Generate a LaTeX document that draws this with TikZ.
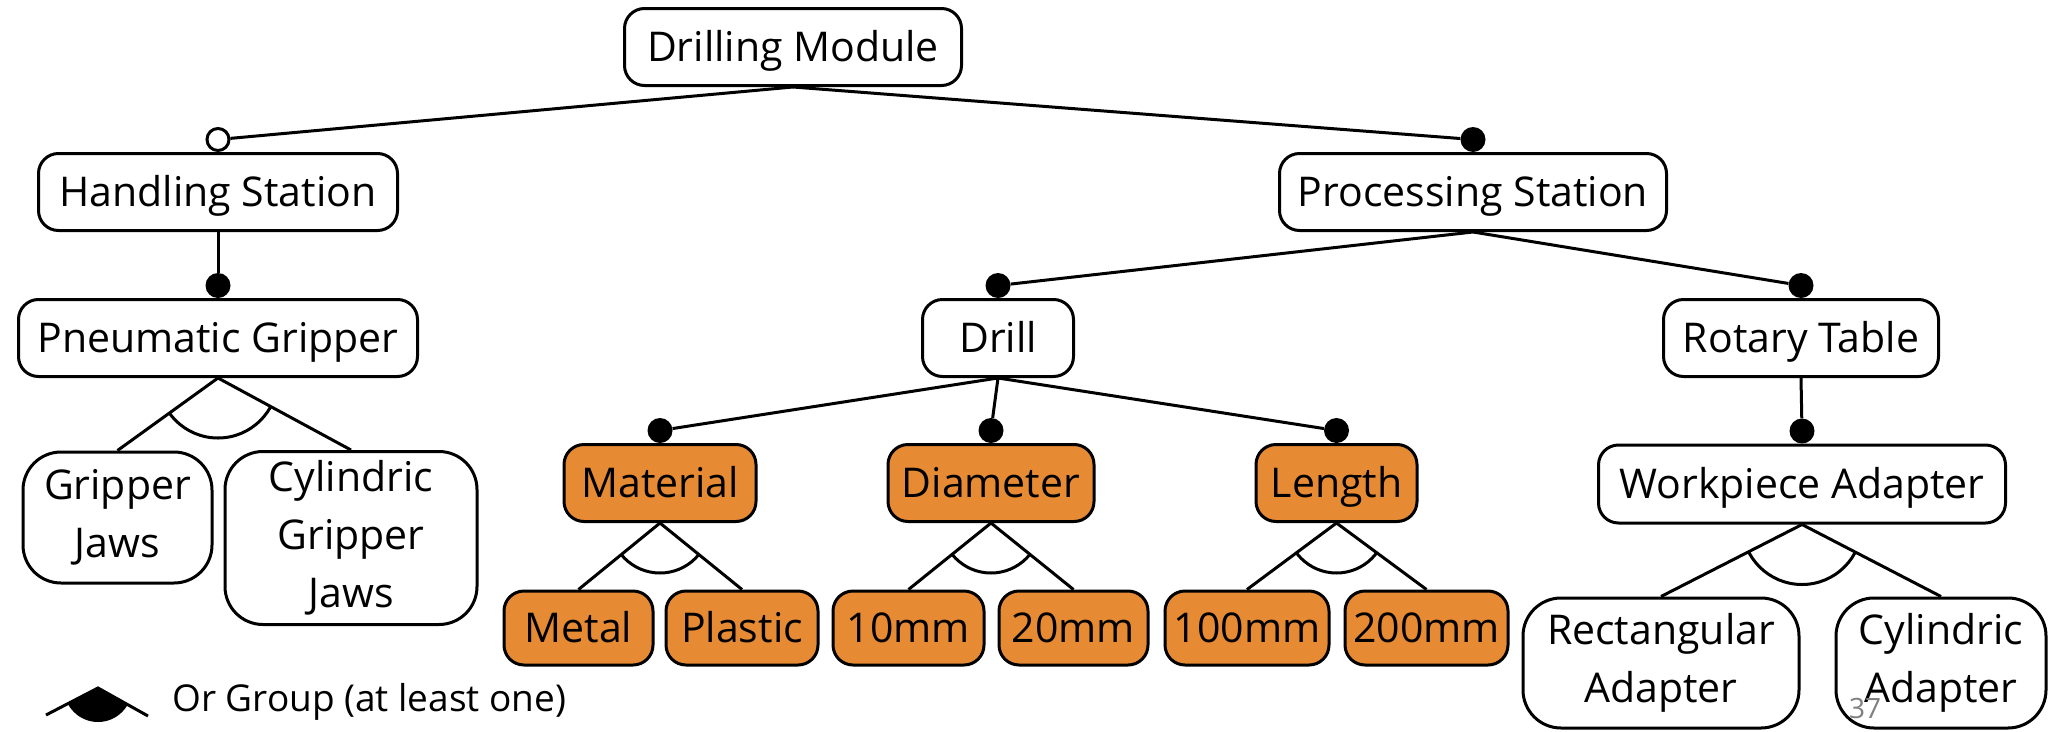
\documentclass[tikz,border=0pt]{standalone}
\usepackage{fontspec}
\setmainfont{Open Sans}
\usetikzlibrary{calc}
\definecolor{orangeF}{RGB}{230,138,52}
\begin{document}
\begin{tikzpicture}[x=1pt,y=-1pt,
  feat/.style={draw, line width=3pt, rounded corners=20pt, inner sep=0pt, minimum height=77pt, font=\fontsize{41}{58}\selectfont, align=center, fill=white},
  one/.style={text height=29pt, text depth=0pt},
  multi/.style={rounded corners=38pt},
  sel/.style={fill=orangeF},
  mand/.style={circle, fill=black, inner sep=0pt, minimum size=25pt},
  opt/.style={circle, draw, fill=white, line width=3pt, inner sep=0pt, minimum size=22pt},
  edge/.style={line width=3pt},
]
\useasboundingbox (0,0) rectangle (2048,731);

% feature nodes
\node[feat, one, minimum width=337pt] (DM) at (793,47) {Drilling Module};
\node[feat, one, minimum width=359pt] (HS) at (218,192) {Handling Station};
\node[feat, one, minimum width=387pt] (PS) at (1473,192) {Processing Station};
\node[feat, one, minimum width=399pt] (PG) at (218,338) {Pneumatic Gripper};
\node[feat, one, minimum width=151pt] (DR) at (998,338) {Drill};
\node[feat, one, minimum width=275pt] (RT) at (1801,338) {Rotary Table};
\node[feat, multi, minimum width=189pt, minimum height=131pt] (GJ) at (117.5,517.5) {Gripper\\Jaws};
\node[feat, multi, minimum width=252pt, minimum height=173pt] (CGJ) at (351,538) {Cylindric\\Gripper\\Jaws};
\node[feat, one, sel, minimum width=192pt] (MA) at (660,483) {Material};
\node[feat, one, sel, minimum width=206pt] (DI) at (991,483) {Diameter};
\node[feat, one, sel, minimum width=161pt] (LE) at (1336.5,483) {Length};
\node[feat, one, minimum width=407pt, minimum height=78pt] (WA) at (1802,484) {Workpiece Adapter};
\node[feat, one, sel, minimum width=149pt, minimum height=74pt] (ME) at (578.5,628) {Metal};
\node[feat, one, sel, minimum width=152pt, minimum height=74pt] (PL) at (742,628) {Plastic};
\node[feat, one, sel, minimum width=151pt, minimum height=74pt] (T10) at (908.5,628) {10mm};
\node[feat, one, sel, minimum width=149pt, minimum height=74pt] (T20) at (1073.5,628) {20mm};
\node[feat, one, sel, minimum width=164pt, minimum height=74pt] (H100) at (1247,628) {100mm};
\node[feat, one, sel, minimum width=163pt, minimum height=74pt] (H200) at (1426.5,628) {200mm};
\node[feat, multi, minimum width=276pt, minimum height=130pt] (RA) at (1661,663) {Rectangular\\Adapter};
\node[feat, multi, minimum width=210pt, minimum height=130pt] (CA) at (1941,663) {Cylindric\\Adapter};

% mandatory / optional markers
\node[opt]  (oHS) at ([yshift=12.5pt]HS.north) {};
\node[mand] (mPS) at ([yshift=12.5pt]PS.north) {};
\node[mand] (mPG) at ([yshift=12.5pt]PG.north) {};
\node[mand] (mDR) at ([yshift=12.5pt]DR.north) {};
\node[mand] (mRT) at ([yshift=12.5pt]RT.north) {};
\node[mand] (mMA) at ([yshift=12.5pt]MA.north) {};
\node[mand] (mDI) at ([yshift=12.5pt]DI.north) {};
\node[mand] (mLE) at ([yshift=12.5pt]LE.north) {};
\node[mand] (mWA) at ([yshift=12.5pt]WA.north) {};

% connectors
\draw[edge] (DM.south) -- (oHS);
\draw[edge] (DM.south) -- (mPS);
\draw[edge] (HS.south) -- (mPG);
\draw[edge] (PS.south) -- (mDR);
\draw[edge] (PS.south) -- (mRT);
\draw[edge] (DR.south) -- (mMA);
\draw[edge] (DR.south) -- (mDI);
\draw[edge] (DR.south) -- (mLE);
\draw[edge] (RT.south) -- (mWA);

% groups
\foreach \p/\a/\b/\r in {PG/GJ/CGJ/60, MA/ME/PL/50, DI/T10/T20/50, LE/H100/H200/50, WA/RA/CA/60}{
  \draw[edge] (\a.north) -- (\p.south) -- (\b.north);
  \begin{scope}
    \clip (\p.south) -- (\a.north) -- (\b.north) -- cycle;
    \draw[edge] (\p.south) circle[radius=\r pt];
  \end{scope}
}

% legend
\coordinate (La) at (98,688);
\coordinate (Ll) at (46,715);
\coordinate (Lr) at (148,716);
\draw[edge] (Ll) -- (La) -- (Lr);
\begin{scope}
  \clip (La) -- ($(La)!2!(Ll)$) -- ($(La)!2!(Lr)$) -- cycle;
  \fill (La) circle[radius=34pt];
\end{scope}
\node[anchor=west, font=\fontsize{37}{44}\selectfont, inner sep=0pt] (LT) at (172,702) {Or Group (at least one)};

% page number
\node[font=\fontsize{28}{32}\selectfont, text=gray, inner sep=0pt] (pg) at (1865,708) {37};
\end{tikzpicture}
\end{document}
